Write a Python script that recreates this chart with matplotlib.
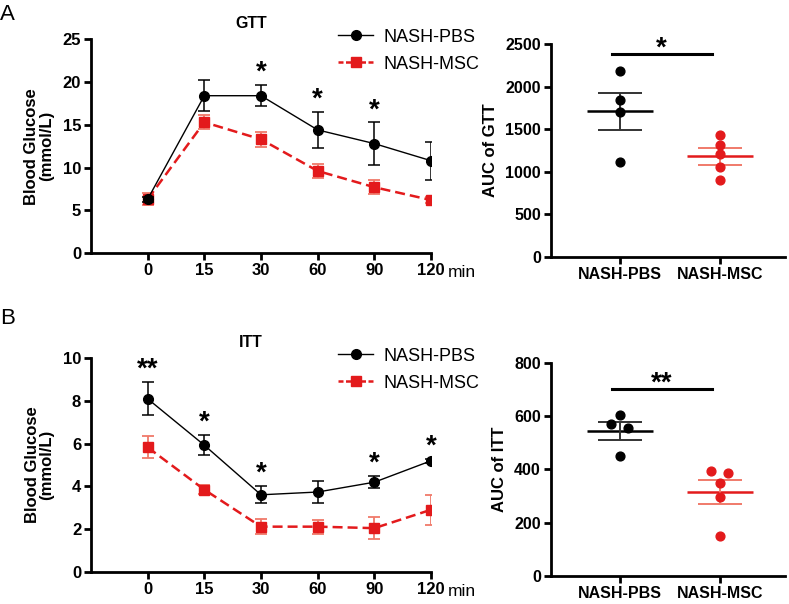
import matplotlib
matplotlib.use("Agg")
import matplotlib.pyplot as plt
from matplotlib.lines import Line2D
import numpy as np

plt.rcParams['font.family'] = ['Liberation Sans', 'DejaVu Sans']

# 时间点
time_labels = ['0', '15', '30', '60', '90', '120']

# GTT
gtt_pbs = [6.3, 18.4, 18.4, 14.4, 12.8, 10.8]
gtt_pbs_err = [0.3, 1.8, 1.25, 2.1, 2.5, 2.2]
gtt_msc = [6.3, 15.3, 13.3, 9.6, 7.7, 6.2]
gtt_msc_err = [0.7, 0.8, 0.9, 0.85, 0.8, 0.4]
gtt_stars = ['', '', '*', '*', '*', '']

# ITT
itt_pbs = [8.1, 5.93, 3.61, 3.74, 4.2, 5.2]
itt_pbs_err = [0.78, 0.47, 0.4, 0.5, 0.27, 0.08]
itt_msc = [5.83, 3.85, 2.12, 2.12, 2.05, 2.91]
itt_msc_err = [0.52, 0.2, 0.36, 0.33, 0.5, 0.7]
itt_stars = ['**', '*', '*', '', '*', '*']

# AUC
groups = ['NASH-PBS', 'NASH-MSC']
auc_gtt_pbs = [2180, 1840, 1700, 1120]
auc_gtt_msc = [1430, 1320, 1210, 1060, 900]
auc_gtt_pbs_x = [0, 0, 0, 0]
auc_gtt_msc_x = [0, 0, 0, 0, 0]
auc_gtt_mean = [1710, 1180]
auc_gtt_sem = [220, 95]

auc_itt_pbs = [605, 570, 555, 450]
auc_itt_msc = [395, 388, 350, 295, 150]
auc_itt_pbs_x = [0, -0.09, 0.085, 0]
auc_itt_msc_x = [-0.085, 0.085, 0, 0, 0]
auc_itt_mean = [545, 315]
auc_itt_sem = [34, 45]

RED = '#e31a1c'
RED_L = '#f07a6a'
LW = 2.0


def style_axes(ax, fs=11.5):
    for s in ['top', 'right']:
        ax.spines[s].set_visible(False)
    for s in ['left', 'bottom']:
        ax.spines[s].set_linewidth(LW)
    ax.tick_params(width=LW, length=5, labelsize=fs, pad=2)
    for lab in ax.get_xticklabels() + ax.get_yticklabels():
        lab.set_fontweight('bold')


def line_panel(fig, rect, pbs, pbs_err, msc, msc_err, stars, ymax, ystep, title, star_off):
    ax = fig.add_axes(rect)
    x = np.arange(len(time_labels))
    ax.errorbar(x, msc, yerr=msc_err, color=RED, ecolor=RED_L, elinewidth=1.3,
                capsize=4, capthick=1.3, marker='s', ms=7, lw=1.8,
                ls=(0, (4, 2)), zorder=3)
    ax.errorbar(x, pbs, yerr=pbs_err, color='black', elinewidth=1.1,
                capsize=4, capthick=1.1, marker='o', ms=7, lw=1.0, zorder=4)
    for i, s in enumerate(stars):
        if s:
            ax.text(x[i], pbs[i] + pbs_err[i] + star_off, s, ha='center',
                    va='center', fontsize=20, fontweight='bold')
    ax.set_xlim(-1, 5)
    ax.set_ylim(0, ymax)
    ax.set_xticks(x)
    ax.set_xticklabels(time_labels)
    ax.set_yticks(np.arange(0, ymax + ystep / 2, ystep))
    style_axes(ax, 12)
    ax.set_ylabel('Blood Glucose\n(mmol/L)', fontsize=12, fontweight='bold',
                  linespacing=1.0, labelpad=6)
    ax.text(5.3, -0.092 * ymax, 'min', fontsize=12.5, ha='left', va='center')
    ax.set_title(title, fontsize=11.5, fontweight='bold', pad=8, x=0.47)
    handles = [Line2D([], [], color='black', marker='o', ms=7, lw=1.0),
               Line2D([], [], color=RED, marker='s', ms=7, lw=1.8, ls=(0, (2, 1)))]
    ax.legend(handles, ['NASH-PBS', 'NASH-MSC'], loc='upper left',
              bbox_to_anchor=(0.68, 1.125), frameon=False, fontsize=13,
              handlelength=1.9, labelspacing=0.55, handletextpad=0.6)
    return ax


def auc_panel(fig, rect, pbs, pbs_x, msc, msc_x, mean, sem, ymax, ystep, ylabel, sig_y, sig):
    ax = fig.add_axes(rect)
    ax.scatter(np.array(pbs_x) + 0, pbs, s=40, color='black', zorder=4)
    ax.scatter(np.array(msc_x) + 1, msc, s=40, color=RED, zorder=4)
    cols = ['black', RED]
    ecols = ['#333333', RED_L]
    for i in range(2):
        ax.hlines(mean[i], i - 0.33, i + 0.33, color=cols[i], lw=1.8, zorder=3)
        ax.errorbar(i, mean[i], yerr=sem[i], color=ecols[i], lw=1.4,
                    capsize=16, capthick=1.4, zorder=3)
    ax.plot([-0.08, 0.92], [sig_y, sig_y], color='black', lw=2.2)
    ax.text(0.42, sig_y + 0.025 * ymax, sig, ha='center', va='center',
            fontsize=20, fontweight='bold')
    ax.set_xlim(-0.69, 1.65)
    ax.set_ylim(0, ymax)
    ax.set_xticks([0, 1])
    ax.set_xticklabels(groups)
    ax.set_yticks(np.arange(0, ymax + ystep / 2, ystep))
    style_axes(ax, 11.5)
    ax.set_ylabel(ylabel, fontsize=12, fontweight='bold', labelpad=5)
    return ax


fig = plt.figure(figsize=(7.89, 6.04), dpi=100)

line_panel(fig, [0.1153, 0.581, 0.431, 0.354], gtt_pbs, gtt_pbs_err,
           gtt_msc, gtt_msc_err, gtt_stars, 25, 5, 'GTT', 1.4)
auc_panel(fig, [0.698, 0.5745, 0.2966, 0.3527], auc_gtt_pbs, auc_gtt_pbs_x,
          auc_gtt_msc, auc_gtt_msc_x, auc_gtt_mean, auc_gtt_sem, 2500, 500,
          'AUC of GTT', 2380, '*')

line_panel(fig, [0.1153, 0.053, 0.431, 0.354], itt_pbs, itt_pbs_err,
           itt_msc, itt_msc_err, itt_stars, 10, 2, 'ITT', 0.6)
auc_panel(fig, [0.698, 0.0464, 0.2966, 0.3527], auc_itt_pbs, auc_itt_pbs_x,
          auc_itt_msc, auc_itt_msc_x, auc_itt_mean, auc_itt_sem, 800, 200,
          'AUC of ITT', 702, '**')

fig.text(0.0, 0.976, 'A', fontsize=16, va='center', ha='left')
fig.text(0.0, 0.473, 'B', fontsize=16, va='center', ha='left')

fig.savefig('out.png', dpi=100)
